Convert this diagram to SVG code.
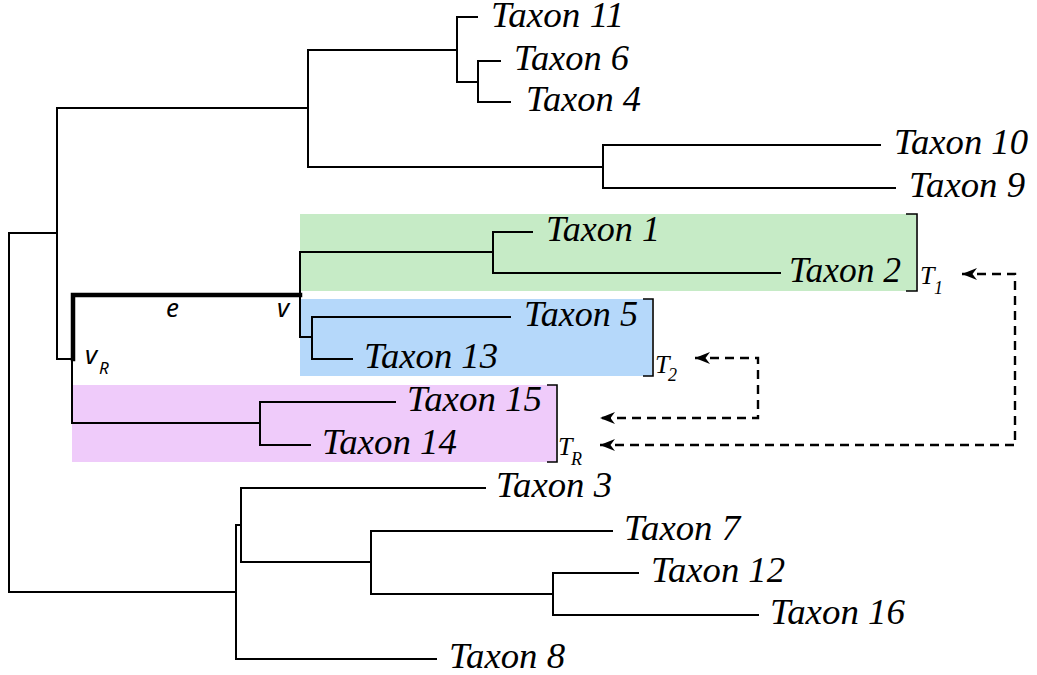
<svg xmlns="http://www.w3.org/2000/svg" width="1037" height="675" viewBox="0 0 1037 675">
  <style>
    .br { fill: none; stroke: #000; stroke-width: 2; stroke-linecap: square; }
    .thick { fill: none; stroke: #000; stroke-width: 4.5; stroke-linecap: square; }
    .tip { font-family: "Liberation Serif", "Times New Roman", serif; font-style: italic; font-size: 35px; fill: #000; }
    .lab { font-family: "Noto Sans", "DejaVu Sans", sans-serif; font-style: italic; font-size: 26px; fill: #000; }
    .sub { font-size: 17px; }
    .tl { font-family: "Liberation Serif", "Times New Roman", serif; font-style: italic; font-size: 26px; fill: #000; }
    .tsub { font-size: 18px; }
    .bk { fill: none; stroke: #000; stroke-width: 1.6; }
    .dash { fill: none; stroke: #000; stroke-width: 2.4; stroke-dasharray: 9 6; }
  </style>
  <defs>
    <marker id="head" viewBox="0 0 15 12" refX="15" refY="6" markerWidth="15" markerHeight="12" markerUnits="userSpaceOnUse" orient="auto-start-reverse">
      <path d="M0,0 L15,6 L0,12 L4.5,6 z" fill="#000"/>
    </marker>
  </defs>

  <!-- highlighted subtrees -->
  <g id="subtrees">
    <rect id="T1-box" x="300" y="214" width="616" height="77" fill="#c6ebc6"/>
    <rect id="T2-box" x="300" y="299" width="352" height="77" fill="#b5d8fa"/>
    <rect id="TR-box" x="72" y="385" width="484" height="77" fill="#efcbfa"/>
  </g>

  <!-- tree branches -->
  <g id="connectors">
    <!-- root -->
    <path class="br" d="M9,233 V592 M9,233 H57 M9,592 H236"/>
    <!-- upper part -->
    <path class="br" d="M57,108 V359 M57,108 H308 M308,50 V167"/>
    <path class="br" d="M308,50 H457 M457,17 V82 M457,17 H477 M457,82 H478 M478,61 V102 M478,61 H500 M478,102 H510"/>
    <path class="br" d="M308,167 H603 M603,145 V188 M603,145 H880 M603,188 H895"/>
    <!-- v_R -->
    <path class="br" d="M57,359 H72 M72,359 V423 M72,423 H260 M260,402 V445 M260,402 H395 M260,445 H310"/>
    <path id="edge-e" class="thick" d="M73,359 V295 H300"/>
    <!-- v -->
    <path class="br" d="M300,252 V337 M300,252 H493 M493,232 V273 M493,232 H532 M493,273 H780"/>
    <path class="br" d="M300,337 H312 M312,317 V359 M312,317 H510 M312,359 H352"/>
    <!-- lower part -->
    <path class="br" d="M236,525 V659 M236,659 H436 M236,525 H241 M241,488 V562 M241,488 H485 M241,562 H371"/>
    <path class="br" d="M371,531 V594 M371,531 H612 M371,594 H553 M553,573 V615 M553,573 H638 M553,615 H758"/>
  </g>

  <!-- subtree brackets -->
  <g id="brackets">
    <path class="bk" d="M906,214 H917 V291 H906"/>
    <path class="bk" d="M643,299 H653 V376 H643"/>
    <path class="bk" d="M547,385 H557 V462 H547"/>
  </g>

  <!-- regraft arrows -->
  <g id="arrows">
    <path class="dash" d="M962,274 H1015 V445 H600" marker-start="url(#head)" marker-end="url(#head)"/>
    <path class="dash" d="M695,358 H758 V418 H600" marker-start="url(#head)" marker-end="url(#head)"/>
  </g>

  <!-- leaves -->
  <g id="leaves">
    <text id="taxon-11" class="tip" x="491" y="27" textLength="133" lengthAdjust="spacingAndGlyphs">Taxon 11</text>
    <text id="taxon-6" class="tip" x="514" y="70" textLength="115" lengthAdjust="spacingAndGlyphs">Taxon 6</text>
    <text id="taxon-4" class="tip" x="526" y="111" textLength="115" lengthAdjust="spacingAndGlyphs">Taxon 4</text>
    <text id="taxon-10" class="tip" x="894" y="154" textLength="134" lengthAdjust="spacingAndGlyphs">Taxon 10</text>
    <text id="taxon-9" class="tip" x="909" y="197" textLength="116" lengthAdjust="spacingAndGlyphs">Taxon 9</text>
    <text id="taxon-1" class="tip" x="546" y="241" textLength="114" lengthAdjust="spacingAndGlyphs">Taxon 1</text>
    <text id="taxon-2" class="tip" x="789" y="282" textLength="112" lengthAdjust="spacingAndGlyphs">Taxon 2</text>
    <text id="taxon-5" class="tip" x="524" y="326" textLength="114" lengthAdjust="spacingAndGlyphs">Taxon 5</text>
    <text id="taxon-13" class="tip" x="364" y="368" textLength="134" lengthAdjust="spacingAndGlyphs">Taxon 13</text>
    <text id="taxon-15" class="tip" x="407" y="411" textLength="135" lengthAdjust="spacingAndGlyphs">Taxon 15</text>
    <text id="taxon-14" class="tip" x="322" y="454" textLength="135" lengthAdjust="spacingAndGlyphs">Taxon 14</text>
    <text id="taxon-3" class="tip" x="496" y="497" textLength="116" lengthAdjust="spacingAndGlyphs">Taxon 3</text>
    <text id="taxon-7" class="tip" x="624" y="540" textLength="116" lengthAdjust="spacingAndGlyphs">Taxon 7</text>
    <text id="taxon-12" class="tip" x="651" y="582" textLength="134" lengthAdjust="spacingAndGlyphs">Taxon 12</text>
    <text id="taxon-16" class="tip" x="770" y="624" textLength="135" lengthAdjust="spacingAndGlyphs">Taxon 16</text>
    <text id="taxon-8" class="tip" x="449" y="668" textLength="116" lengthAdjust="spacingAndGlyphs">Taxon 8</text>
  </g>

  <!-- node and edge labels -->
  <g id="labels">
    <text id="label-e" class="lab" x="166" y="317">e</text>
    <text id="label-v" class="lab" x="277" y="317">v</text>
    <text id="label-vR" class="lab" x="85" y="364">v<tspan class="sub" x="99" y="374">R</tspan></text>
    <text id="label-T1" class="tl" x="920" y="284">T<tspan class="tsub" x="934" y="294">1</tspan></text>
    <text id="label-T2" class="tl" x="655" y="373">T<tspan class="tsub" x="668" y="381">2</tspan></text>
    <text id="label-TR" class="tl" x="558" y="455">T<tspan class="tsub" x="571" y="465">R</tspan></text>
  </g>
</svg>
